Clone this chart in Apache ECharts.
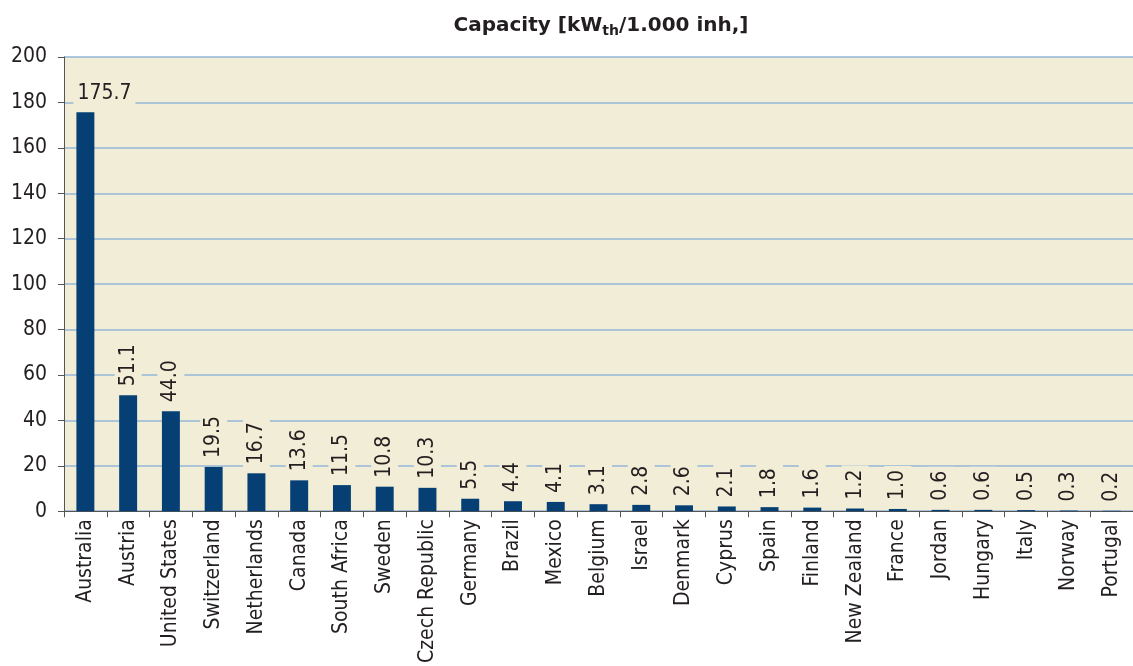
<!DOCTYPE html>
<html><head><meta charset="utf-8">
<script src="https://cdn.jsdelivr.net/npm/echarts@6/dist/echarts.min.js"></script>
<style>html,body{margin:0;padding:0;background:#fff}#c{width:1133px;height:666px}</style>
</head><body><div id="c"></div>
<script>
const categories = ["Australia","Austria","United States","Switzerland","Netherlands","Canada","South Africa","Sweden","Czech Republic","Germany","Brazil","Mexico","Belgium","Israel","Denmark","Cyprus","Spain","Finland","New Zealand","France","Jordan","Hungary","Italy","Norway","Portugal"];
const values = [175.7,51.1,44.0,19.5,16.7,13.6,11.5,10.8,10.3,5.5,4.4,4.1,3.1,2.8,2.6,2.1,1.8,1.6,1.2,1.0,0.6,0.6,0.5,0.3,0.2];
const yTicks = {min:0,max:200,interval:20};
const titleText = "Capacity [kW{s|th}/1.000 inh,]";

const font = "DejaVu Sans Condensed";
const titleFont = "DejaVu Sans";
const bg = "#F2EDD6";
const txt = "#231F20";
const chart = echarts.init(document.getElementById('c'), null, {renderer:'canvas'});
const data = values.map((v,i)=> i===0 ? {value:v,label:{rotate:0,align:'left',verticalAlign:'bottom',position:'top',distance:5,offset:[-12,0]}} : v);
chart.setOption({
  animation:false,
  backgroundColor:'#fff',
  title:{text:titleText,left:596,textAlign:'center',top:9,
    textStyle:{fontFamily:titleFont,fontWeight:'bold',fontSize:20,color:txt,
      rich:{s:{fontFamily:titleFont,fontWeight:'bold',fontSize:14,color:txt,verticalAlign:'bottom',padding:[10,0,0,0]}}}},
  grid:{left:64,width:1075,top:57,height:456,backgroundColor:bg,show:true,borderWidth:0},
  xAxis:{type:'category',data:categories,
    axisLine:{lineStyle:{color:'#555',width:1}},
    axisTick:{show:true,length:6,alignWithLabel:false,lineStyle:{color:'#555'}},
    axisLabel:{rotate:90,interval:0,fontFamily:font,fontSize:21,color:txt,margin:8}},
  yAxis:{type:'value',min:yTicks.min,max:yTicks.max,interval:yTicks.interval,
    axisLine:{show:true,lineStyle:{color:'#555',width:1}},
    axisTick:{show:true,length:6,lineStyle:{color:'#555'}},
    axisLabel:{fontFamily:font,fontSize:21,color:txt,margin:17},
    splitLine:{lineStyle:{color:'#94B6D8',width:1.5}}},
  series:[{type:'bar',data:data,barWidth:'42%',itemStyle:{color:'#053F74'},
    label:{show:true,position:'top',rotate:90,align:'left',verticalAlign:'middle',distance:5,
      formatter:p=>Number(p.value).toFixed(1),fontFamily:font,fontSize:21,color:txt,
      backgroundColor:bg,padding:[3,4,3,4]}}]
});
</script></body></html>
